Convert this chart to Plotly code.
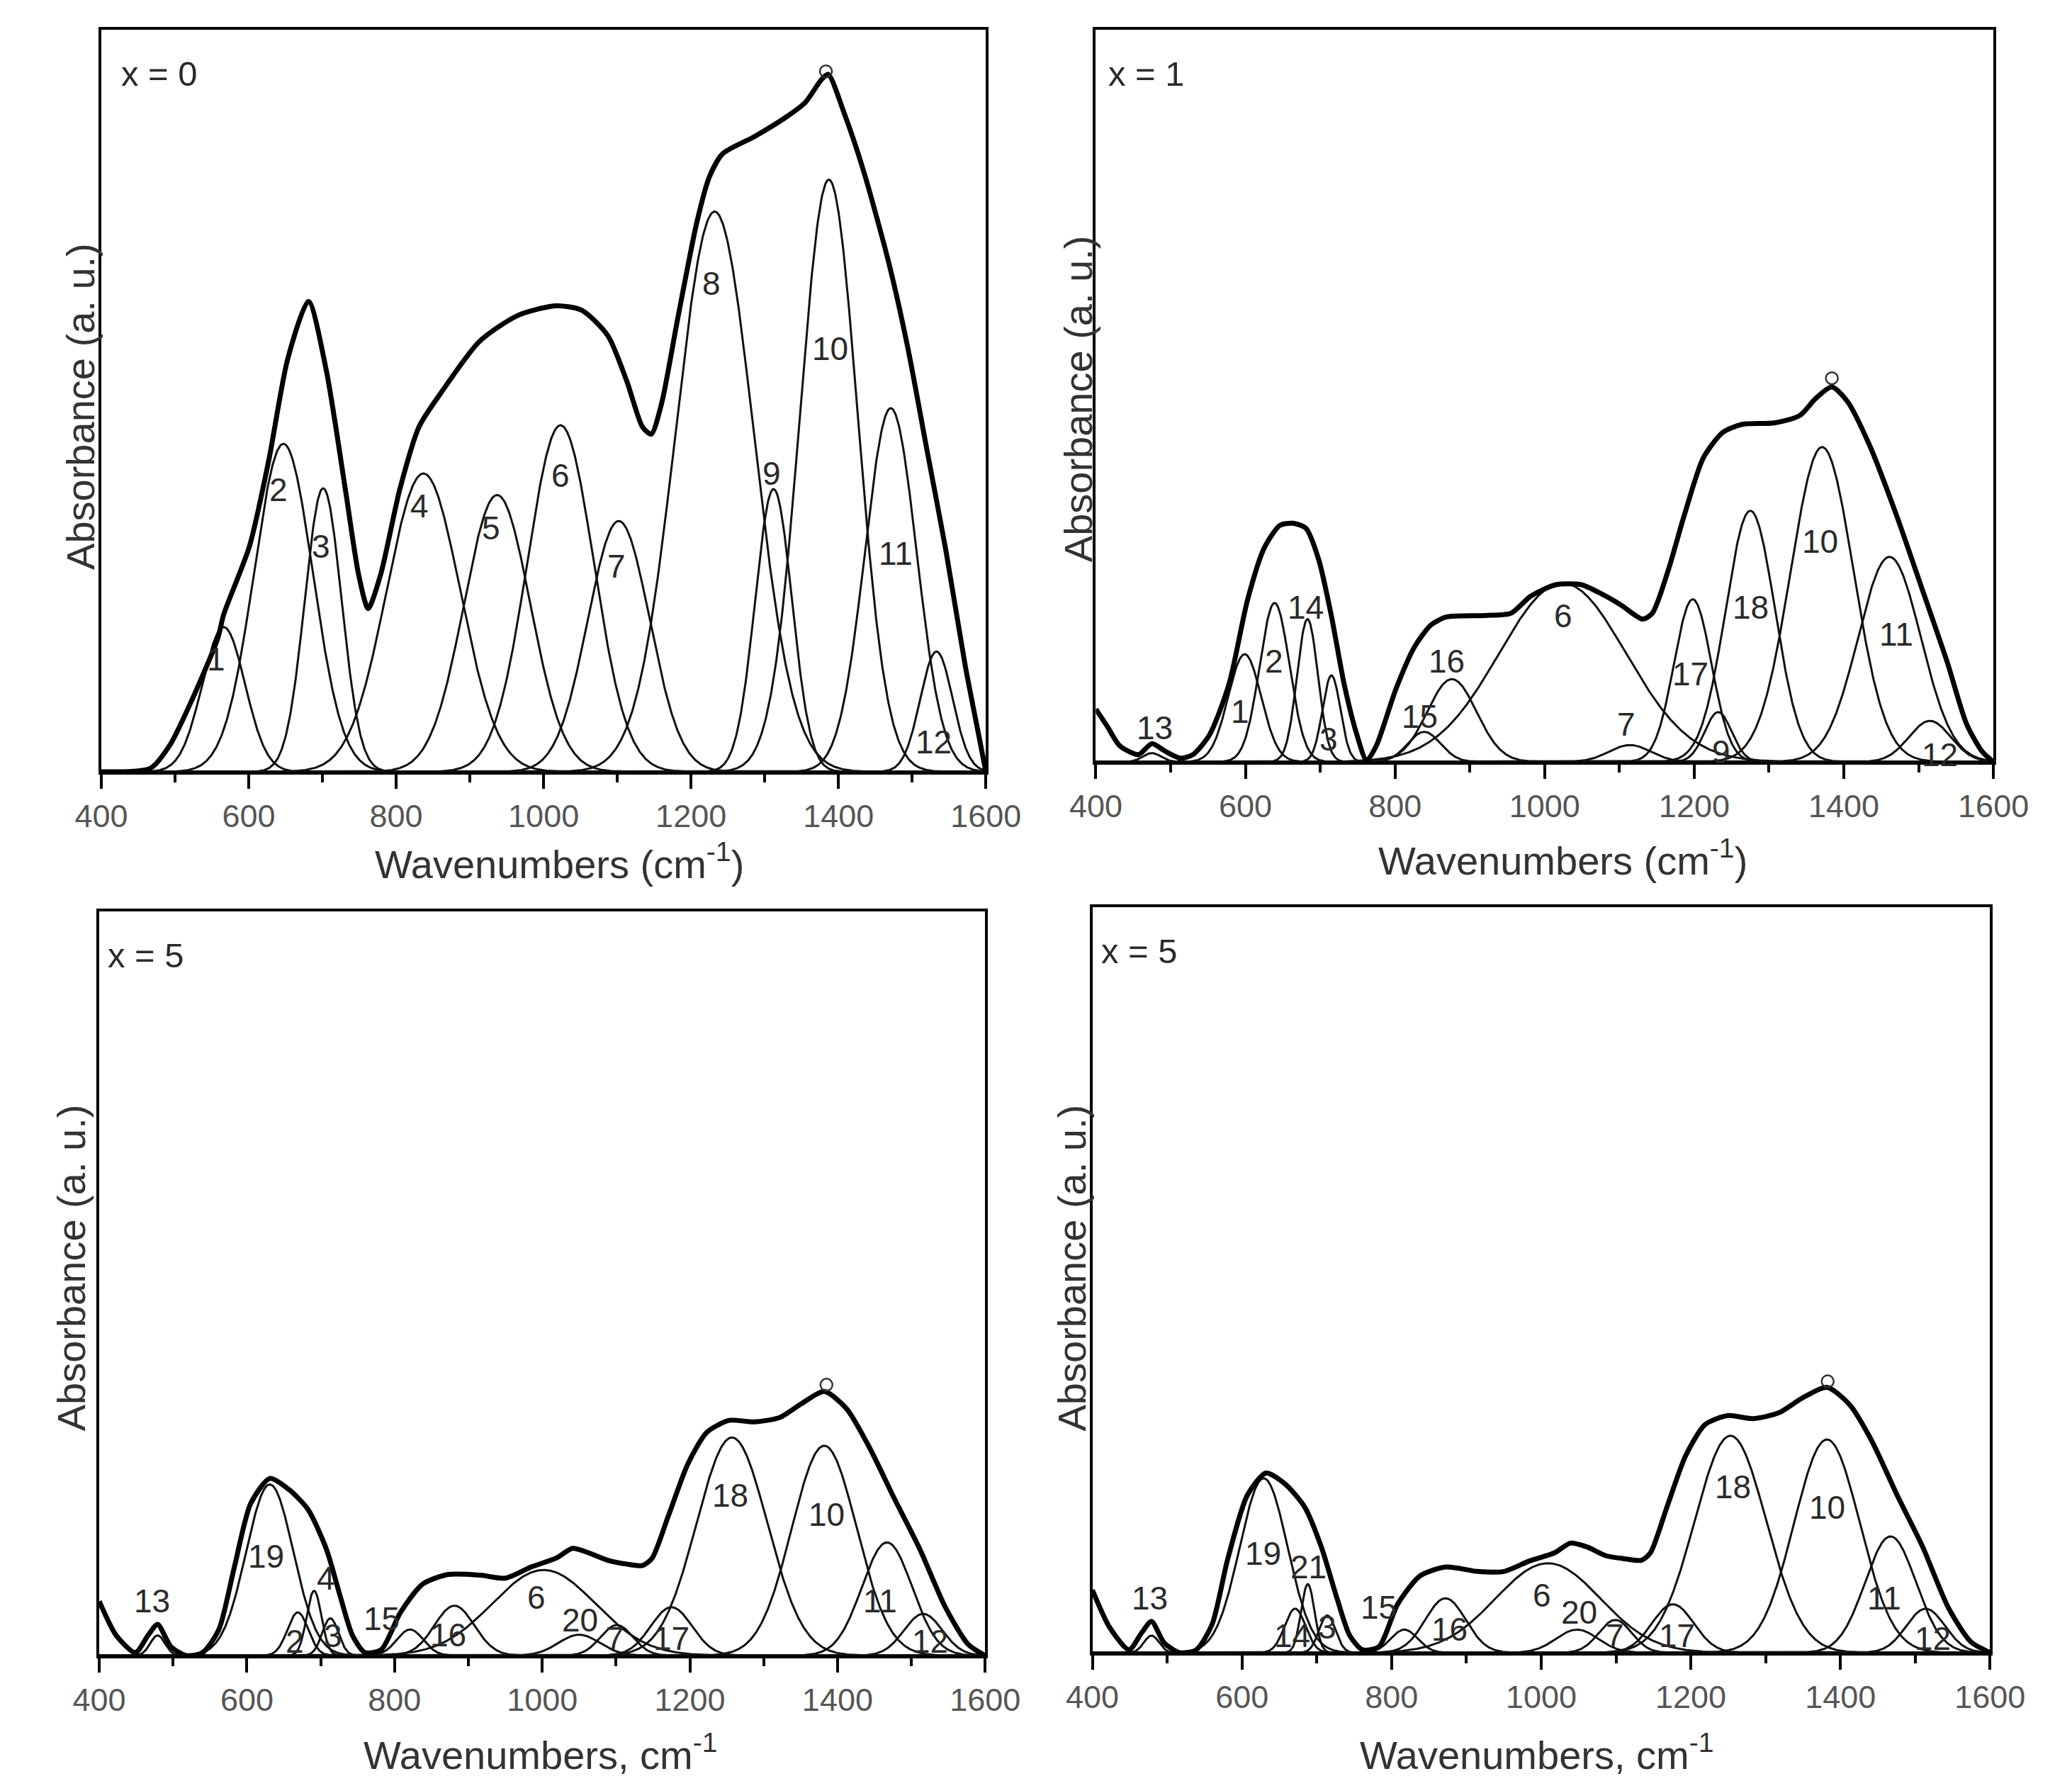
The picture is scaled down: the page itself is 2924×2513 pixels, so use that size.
import numpy as np
import plotly.graph_objects as go

W, H = 2924, 2513

# ---------------- data ----------------
# Gaussian band parameters for each panel: label, centre (cm-1), height (fraction of frame), sigma (cm-1)
p1_labels  = ["1", "2", "3", "4", "5", "6", "7", "8", "9", "10", "11", "12"]
p1_centers = [566, 647, 701, 837, 937, 1023, 1102, 1232, 1312, 1387, 1471, 1533]
p1_heights = [0.195, 0.442, 0.382, 0.402, 0.373, 0.467, 0.338, 0.755, 0.381, 0.798, 0.490, 0.162]
p1_sigmas  = [29, 40, 25, 50, 45, 45, 42, 53, 25, 39, 35, 22]

p2_labels  = ["13", "1", "2", "14", "3", "15", "16", "6", "7", "17", "9", "18", "10", "11", "12"]
p2_centers = [475, 599, 639, 683, 715, 839, 876, 1024, 1114, 1198, 1232, 1275, 1371, 1461, 1515]
p2_heights = [0.012, 0.147, 0.217, 0.195, 0.118, 0.041, 0.113, 0.244, 0.023, 0.222, 0.068, 0.343, 0.430, 0.280, 0.056]
p2_sigmas  = [12, 22, 20, 14, 12, 22, 33, 85, 28, 25, 18, 33, 42, 42, 28]

p3_labels  = ["13", "19", "2", "4", "3", "15", "16", "6", "20", "7", "17", "18", "10", "11", "12"]
p3_centers = [479, 631, 669, 691, 713, 821, 881, 1002, 1050, 1101, 1175, 1257, 1382, 1467, 1516]
p3_heights = [0.027, 0.230, 0.058, 0.087, 0.050, 0.035, 0.067, 0.115, 0.028, 0.041, 0.065, 0.293, 0.282, 0.152, 0.056]
p3_sigmas  = [10, 32, 14, 10, 11, 18, 27, 70, 28, 22, 28, 48, 44, 34, 26]

p4_labels  = ["13", "19", "14", "21", "3", "15", "16", "6", "20", "7", "17", "18", "10", "11", "12"]
p4_centers = [479, 629, 671, 688, 714, 817, 872, 1009, 1048, 1099, 1176, 1253, 1382, 1467, 1514]
p4_heights = [0.023, 0.234, 0.059, 0.092, 0.050, 0.031, 0.073, 0.120, 0.031, 0.044, 0.065, 0.291, 0.286, 0.156, 0.059]
p4_sigmas  = [10, 32, 14, 9, 11, 18, 27, 70, 28, 22, 28, 48, 44, 34, 26]

# Measured spectra (thick curves): wavenumber, absorbance (fraction of frame)
p1_env_x = [400, 467, 493, 523, 558, 566, 601, 627, 653, 681, 705, 731, 749, 762, 779, 805, 831, 861, 913,
            965, 1017, 1052, 1087, 1113, 1134, 1146, 1160, 1182, 1208, 1225, 1243, 1286, 1330, 1355, 1377,
            1386, 1408, 1434, 1468, 1494, 1520, 1546, 1572, 1590, 1600]
p1_env_y = [0.0, 0.005, 0.036, 0.097, 0.18, 0.212, 0.304, 0.419, 0.557, 0.634, 0.542, 0.381, 0.266, 0.22,
            0.266, 0.381, 0.465, 0.511, 0.58, 0.615, 0.628, 0.622, 0.588, 0.526, 0.465, 0.455, 0.496, 0.611,
            0.741, 0.802, 0.833, 0.856, 0.883, 0.902, 0.933, 0.94, 0.887, 0.81, 0.687, 0.572, 0.434, 0.297,
            0.143, 0.051, 0.0]

p2_env_x = [400, 415, 432, 457, 475, 492, 513, 530, 552, 578, 603, 625, 646, 663, 681, 698, 715, 732, 749,
            762, 775, 801, 826, 848, 869, 921, 955, 981, 1015, 1049, 1075, 1101, 1131, 1144, 1165, 1187,
            1212, 1238, 1264, 1307, 1341, 1362, 1384, 1405, 1435, 1470, 1504, 1538, 1564, 1585, 1600]
p2_env_y = [0.072, 0.049, 0.022, 0.01, 0.025, 0.015, 0.005, 0.01, 0.037, 0.106, 0.222, 0.292, 0.323, 0.326,
            0.319, 0.276, 0.199, 0.106, 0.037, 0.002, 0.022, 0.099, 0.157, 0.187, 0.198, 0.2, 0.203, 0.226,
            0.242, 0.242, 0.23, 0.215, 0.195, 0.203, 0.261, 0.338, 0.415, 0.45, 0.461, 0.463, 0.473, 0.496,
            0.512, 0.492, 0.431, 0.338, 0.238, 0.137, 0.052, 0.014, 0.0]

p3_env_x = [400, 423, 449, 466, 479, 497, 518, 540, 562, 583, 605, 631, 657, 683, 708, 726, 743, 760, 782,
            808, 838, 873, 916, 950, 985, 1019, 1041, 1063, 1089, 1114, 1136, 1149, 1171, 1197, 1223, 1253,
            1287, 1322, 1352, 1382, 1412, 1443, 1477, 1512, 1546, 1577, 1600]
p3_env_y = [0.073, 0.027, 0.004, 0.027, 0.042, 0.012, 0.0, 0.004, 0.035, 0.119, 0.204, 0.238, 0.223, 0.196,
            0.142, 0.081, 0.027, 0.004, 0.008, 0.058, 0.096, 0.109, 0.108, 0.104, 0.119, 0.131, 0.144, 0.138,
            0.128, 0.123, 0.121, 0.131, 0.188, 0.257, 0.3, 0.316, 0.314, 0.32, 0.339, 0.355, 0.332, 0.28,
            0.211, 0.142, 0.065, 0.015, 0.0]

p4_env_x = [400, 423, 449, 466, 479, 496, 517, 539, 560, 581, 607, 632, 658, 684, 706, 727, 744, 761, 783,
            808, 838, 873, 915, 950, 984, 1018, 1039, 1061, 1087, 1112, 1134, 1146, 1168, 1193, 1219, 1249,
            1283, 1318, 1348, 1382, 1412, 1442, 1476, 1510, 1544, 1574, 1600]
p4_env_y = [0.084, 0.034, 0.004, 0.027, 0.042, 0.013, 0.0, 0.004, 0.038, 0.126, 0.211, 0.241, 0.226, 0.195,
            0.142, 0.073, 0.023, 0.004, 0.008, 0.065, 0.103, 0.115, 0.109, 0.109, 0.123, 0.134, 0.147, 0.142,
            0.13, 0.126, 0.124, 0.134, 0.195, 0.264, 0.306, 0.318, 0.314, 0.322, 0.341, 0.356, 0.333, 0.284,
            0.211, 0.142, 0.061, 0.015, 0.0]

# Open-circle data point visible at the top of the main band
peak_mark_x = [1383, 1384, 1385, 1383]
peak_mark_y = [0.944, 0.524, 0.364, 0.364]

# Peak-label positions (wavenumber, height)
p1_lab_x = [556, 640, 698, 832, 929, 1023, 1099, 1228, 1309, 1389, 1478, 1529]
p1_lab_y = [0.152, 0.38, 0.304, 0.358, 0.329, 0.399, 0.277, 0.658, 0.402, 0.57, 0.294, 0.04]
p2_lab_x = [479, 593, 638, 680, 711, 833, 869, 1025, 1109, 1195, 1236, 1275, 1368, 1470, 1528]
p2_lab_y = [0.046, 0.069, 0.137, 0.211, 0.031, 0.062, 0.137, 0.199, 0.051, 0.12, 0.014, 0.211, 0.301, 0.174, 0.01]
p3_lab_x = [471, 626, 665, 707, 717, 782, 873, 992, 1051, 1099, 1175, 1255, 1385, 1458, 1525]
p3_lab_y = [0.073, 0.133, 0.019, 0.104, 0.027, 0.05, 0.028, 0.078, 0.048, 0.023, 0.023, 0.215, 0.19, 0.073, 0.019]
p4_lab_x = [477, 628, 667, 689, 714, 783, 877, 1001, 1051, 1099, 1181, 1256, 1382, 1459, 1523]
p4_lab_y = [0.073, 0.133, 0.023, 0.115, 0.034, 0.061, 0.031, 0.077, 0.054, 0.023, 0.023, 0.222, 0.195, 0.073, 0.019]

panel_titles = ["x = 0", "x = 1", "x = 5", "x = 5"]
x_titles = ["Wavenumbers (cm<sup>-1</sup>)", "Wavenumbers (cm<sup>-1</sup>)",
            "Wavenumbers, cm<sup>-1</sup>", "Wavenumbers, cm<sup>-1</sup>"]
y_title = "Absorbance (a. u.)"
x_ticks = [400, 600, 800, 1000, 1200, 1400, 1600]
x_minor = [500, 700, 900, 1100, 1300, 1500]

# ---------------- layout geometry (pixels) ----------------
frames = [(100, 1387, 34, 1081), (1547, 2853, 34, 1067),
          (97, 1386, 1278, 2328), (1542, 2848, 1272, 2324)]
ytitle_pos = [(69, 565), (1521, 555), (56, 1781), (1512, 1781)]
xtitle_pos = [(767, 1207), (2226, 1202), (739, 2464), (2189, 2464)]
ptitle_off = [27, 16, 10, 11]

FONT = "Liberation Sans, Arial, sans-serif"

panels = [
    (p1_labels, p1_centers, p1_heights, p1_sigmas, p1_env_x, p1_env_y, p1_lab_x, p1_lab_y),
    (p2_labels, p2_centers, p2_heights, p2_sigmas, p2_env_x, p2_env_y, p2_lab_x, p2_lab_y),
    (p3_labels, p3_centers, p3_heights, p3_sigmas, p3_env_x, p3_env_y, p3_lab_x, p3_lab_y),
    (p4_labels, p4_centers, p4_heights, p4_sigmas, p4_env_x, p4_env_y, p4_lab_x, p4_lab_y),
]

fig = go.Figure()
xg = np.linspace(400, 1600, 1201)
annotations = []
layout_axes = {}

for i, (labs, cen, hei, sig, ex, ey, lx, ly) in enumerate(panels):
    n = "" if i == 0 else str(i + 1)
    xa, ya = "x" + n, "y" + n
    for c, h, s in zip(cen, hei, sig):
        fig.add_trace(go.Scatter(x=xg, y=h * np.exp(-(xg - c) ** 2 / (2 * s * s)), mode="lines",
                                 line=dict(color="#111111", width=3), xaxis=xa, yaxis=ya,
                                 showlegend=False, hoverinfo="skip"))
    fig.add_trace(go.Scatter(x=ex, y=ey, mode="lines", line=dict(color="black", width=7, shape="spline",
                                                                 smoothing=0.7),
                             xaxis=xa, yaxis=ya, showlegend=False))
    fig.add_trace(go.Scatter(x=[peak_mark_x[i]], y=[peak_mark_y[i]], mode="markers",
                             marker=dict(symbol="circle-open", size=17, color="#333333",
                                         line=dict(width=2.5, color="#333333")),
                             xaxis=xa, yaxis=ya, showlegend=False))
    for t, x, y in zip(labs, lx, ly):
        annotations.append(dict(text=t, x=x, y=y, xref=xa, yref=ya, showarrow=False,
                                font=dict(family=FONT, size=46, color="#2a2a2a"),
                                xanchor="center", yanchor="middle"))
    l, r, t_, b = frames[i]
    layout_axes["xaxis" + n] = dict(domain=[l / W, r / W], anchor=ya, range=[400, 1600],
                                    tickvals=x_ticks, ticks="outside", ticklen=20, tickwidth=4,
                                    tickcolor="black",
                                    minor=dict(tickvals=x_minor, ticks="outside", ticklen=11, tickwidth=4,
                                               tickcolor="black"),
                                    showline=True, mirror=True, linewidth=4, linecolor="black",
                                    showgrid=False, zeroline=False,
                                    tickfont=dict(family=FONT, size=45, color="#555555"))
    layout_axes["yaxis" + n] = dict(domain=[1 - b / H, 1 - t_ / H], anchor=xa, range=[0, 1],
                                    showticklabels=False, ticks="", showline=True, mirror=True,
                                    linewidth=4, linecolor="black", showgrid=False, zeroline=False)
    # panel title
    annotations.append(dict(text=panel_titles[i], x=(l + ptitle_off[i]) / W, y=1 - (t_ + 62) / H,
                            xref="paper", yref="paper", showarrow=False, xanchor="left", yanchor="middle",
                            font=dict(family=FONT, size=49, color="#2a2a2a")))
    # axis titles
    yx, yy = ytitle_pos[i]
    annotations.append(dict(text=y_title, x=yx / W, y=1 - yy / H, xref="paper", yref="paper",
                            showarrow=False, textangle=-90, xanchor="center", yanchor="middle",
                            font=dict(family=FONT, size=56, color="#333333")))
    xx, xy = xtitle_pos[i]
    annotations.append(dict(text=x_titles[i], x=xx / W, y=1 - xy / H, xref="paper", yref="paper",
                            showarrow=False, xanchor="center", yanchor="middle",
                            font=dict(family=FONT, size=56, color="#333333")))

fig.update_layout(width=W, height=H, margin=dict(l=0, r=0, t=0, b=0),
                  paper_bgcolor="white", plot_bgcolor="white",
                  annotations=annotations, **layout_axes)

fig.write_html("out.html")
